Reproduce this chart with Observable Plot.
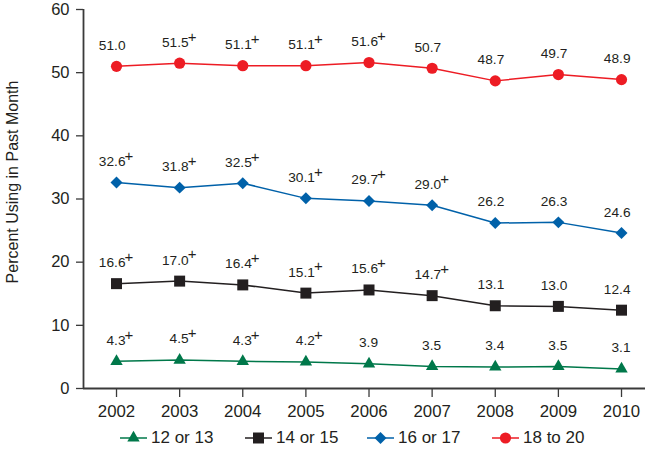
<!DOCTYPE html>
<html>
<head>
<meta charset="utf-8">
<script src="https://cdn.jsdelivr.net/npm/d3@7"></script>
<script src="https://cdn.jsdelivr.net/npm/@observablehq/plot@0.6"></script>
<style>
  body { margin: 0; background: #fff; font-family: "Liberation Sans", Arial, Helvetica, sans-serif; }
  #chart svg { display: block; }
  #legend { position: relative; height: 24px; margin-top: 6px; font-size: 17px; color: #231F20; }
  .item { position: absolute; top: 0; display: flex; align-items: center; height: 24px; }
  .item svg { display: block; margin-right: 4px; }
</style>
</head>
<body>
<div id="chart"></div>
<div id="legend"></div>
<script>
// ---- data ----
const years = [2002, 2003, 2004, 2005, 2006, 2007, 2008, 2009, 2010];
const seriesNames = ["12 or 13", "14 or 15", "16 or 17", "18 to 20"];
const age12to13 = [4.3, 4.5, 4.3, 4.2, 3.9, 3.5, 3.4, 3.5, 3.1];
const age14to15 = [16.6, 17.0, 16.4, 15.1, 15.6, 14.7, 13.1, 13.0, 12.4];
const age16to17 = [32.6, 31.8, 32.5, 30.1, 29.7, 29.0, 26.2, 26.3, 24.6];
const age18to20 = [51.0, 51.5, 51.1, 51.1, 51.6, 50.7, 48.7, 49.7, 48.9];
// "+" marks (significant difference from 2010)
const plus12to13 = [1, 1, 1, 1, 0, 0, 0, 0, 0];
const plus14to15 = [1, 1, 1, 1, 1, 1, 0, 0, 0];
const plus16to17 = [1, 1, 1, 1, 1, 1, 0, 0, 0];
const plus18to20 = [0, 1, 1, 1, 1, 0, 0, 0, 0];
const yTicks = [0, 10, 20, 30, 40, 50, 60];
const yLabel = "Percent Using in Past Month";

// ---- styles ----
const colors = ["#00784A", "#231F20", "#0061A9", "#ED1C24"];
const symbols = ["triangle", "square", "diamond2", "circle"];
const radii = [4.6, 6.2, 5.4, 5.6];
const font = '"Liberation Sans", Arial, Helvetica, sans-serif';
const axisColor = "#3a3a3a";

const valueSets = [age12to13, age14to15, age16to17, age18to20];
const plusSets = [plus12to13, plus14to15, plus16to17, plus18to20];
const rows = [];
seriesNames.forEach((s, i) => {
  years.forEach((yr, j) => {
    rows.push({series: s, idx: i, year: yr, value: valueSets[i][j], plus: plusSets[i][j] === 1});
  });
});

const xDomain = [2001.477, 2010.38];

const marks = [
  Plot.ruleY([0], {stroke: axisColor, strokeWidth: 1.8}),
  Plot.ruleX([xDomain[0]], {stroke: axisColor, strokeWidth: 1.8}),
  Plot.axisX({ticks: years, tickFormat: d => String(d), tickSize: 9, tickPadding: 8,
    fontSize: 16.8, stroke: axisColor, strokeWidth: 1.3, color: "#231F20", label: null}),
  Plot.axisY({ticks: yTicks, tickSize: 7, tickPadding: 7, fontSize: 16.5,
    stroke: axisColor, strokeWidth: 1.3, color: "#231F20", label: null}),
  Plot.text([yLabel], {frameAnchor: "left", textAnchor: "middle", lineAnchor: "middle",
    dx: -71, dy: -17, rotate: -90, fontSize: 16, fill: "#231F20"})
];

seriesNames.forEach((s, i) => {
  const d = rows.filter(r => r.idx === i);
  marks.push(Plot.line(d, {x: "year", y: "value", stroke: colors[i], strokeWidth: 1.5}));
  marks.push(Plot.dot(d, {x: "year", y: "value", symbol: () => symbols[i], r: radii[i],
    fill: colors[i], stroke: "none"}));
  marks.push(Plot.text(d, {x: "year", y: "value", text: r => r.value.toFixed(1),
    textAnchor: "end", dx: 9, dy: -21, fontSize: 13.7, fill: "#231F20"}));
  marks.push(Plot.text(d.filter(r => r.plus), {x: "year", y: "value", text: () => "+",
    textAnchor: "start", dx: 8, dy: -26.5, fontSize: 15, fill: "#231F20"}));
});

const chart = Plot.plot({
  width: 653,
  height: 420,
  marginLeft: 83,
  marginRight: 8,
  marginTop: 9,
  marginBottom: 32,
  style: {fontFamily: font, background: "#fff"},
  x: {type: "linear", domain: xDomain},
  y: {domain: [0, 60]},
  symbol: {type: "identity"},
  marks
});
document.getElementById("chart").appendChild(chart);

// ---- legend ----
const legend = document.getElementById("legend");
const itemLeft = [120, 245, 367, 492];
const symMap = {triangle: d3.symbolTriangle, square: d3.symbolSquare, diamond2: d3.symbolDiamond2, circle: d3.symbolCircle};
seriesNames.forEach((s, i) => {
  const item = document.createElement("div");
  item.className = "item";
  item.style.left = itemLeft[i] + "px";
  const svg = d3.create("svg").attr("width", 27).attr("height", 16);
  svg.append("line").attr("x1", 0).attr("x2", 27).attr("y1", 8).attr("y2", 8)
    .attr("stroke", colors[i]).attr("stroke-width", 1.5);
  svg.append("path").attr("transform", "translate(13.5,8)")
    .attr("d", d3.symbol(symMap[symbols[i]], radii[i] * radii[i] * Math.PI)())
    .attr("fill", colors[i]);
  item.appendChild(svg.node());
  const span = document.createElement("span");
  span.textContent = s;
  item.appendChild(span);
  legend.appendChild(item);
});
</script>
</body>
</html>
